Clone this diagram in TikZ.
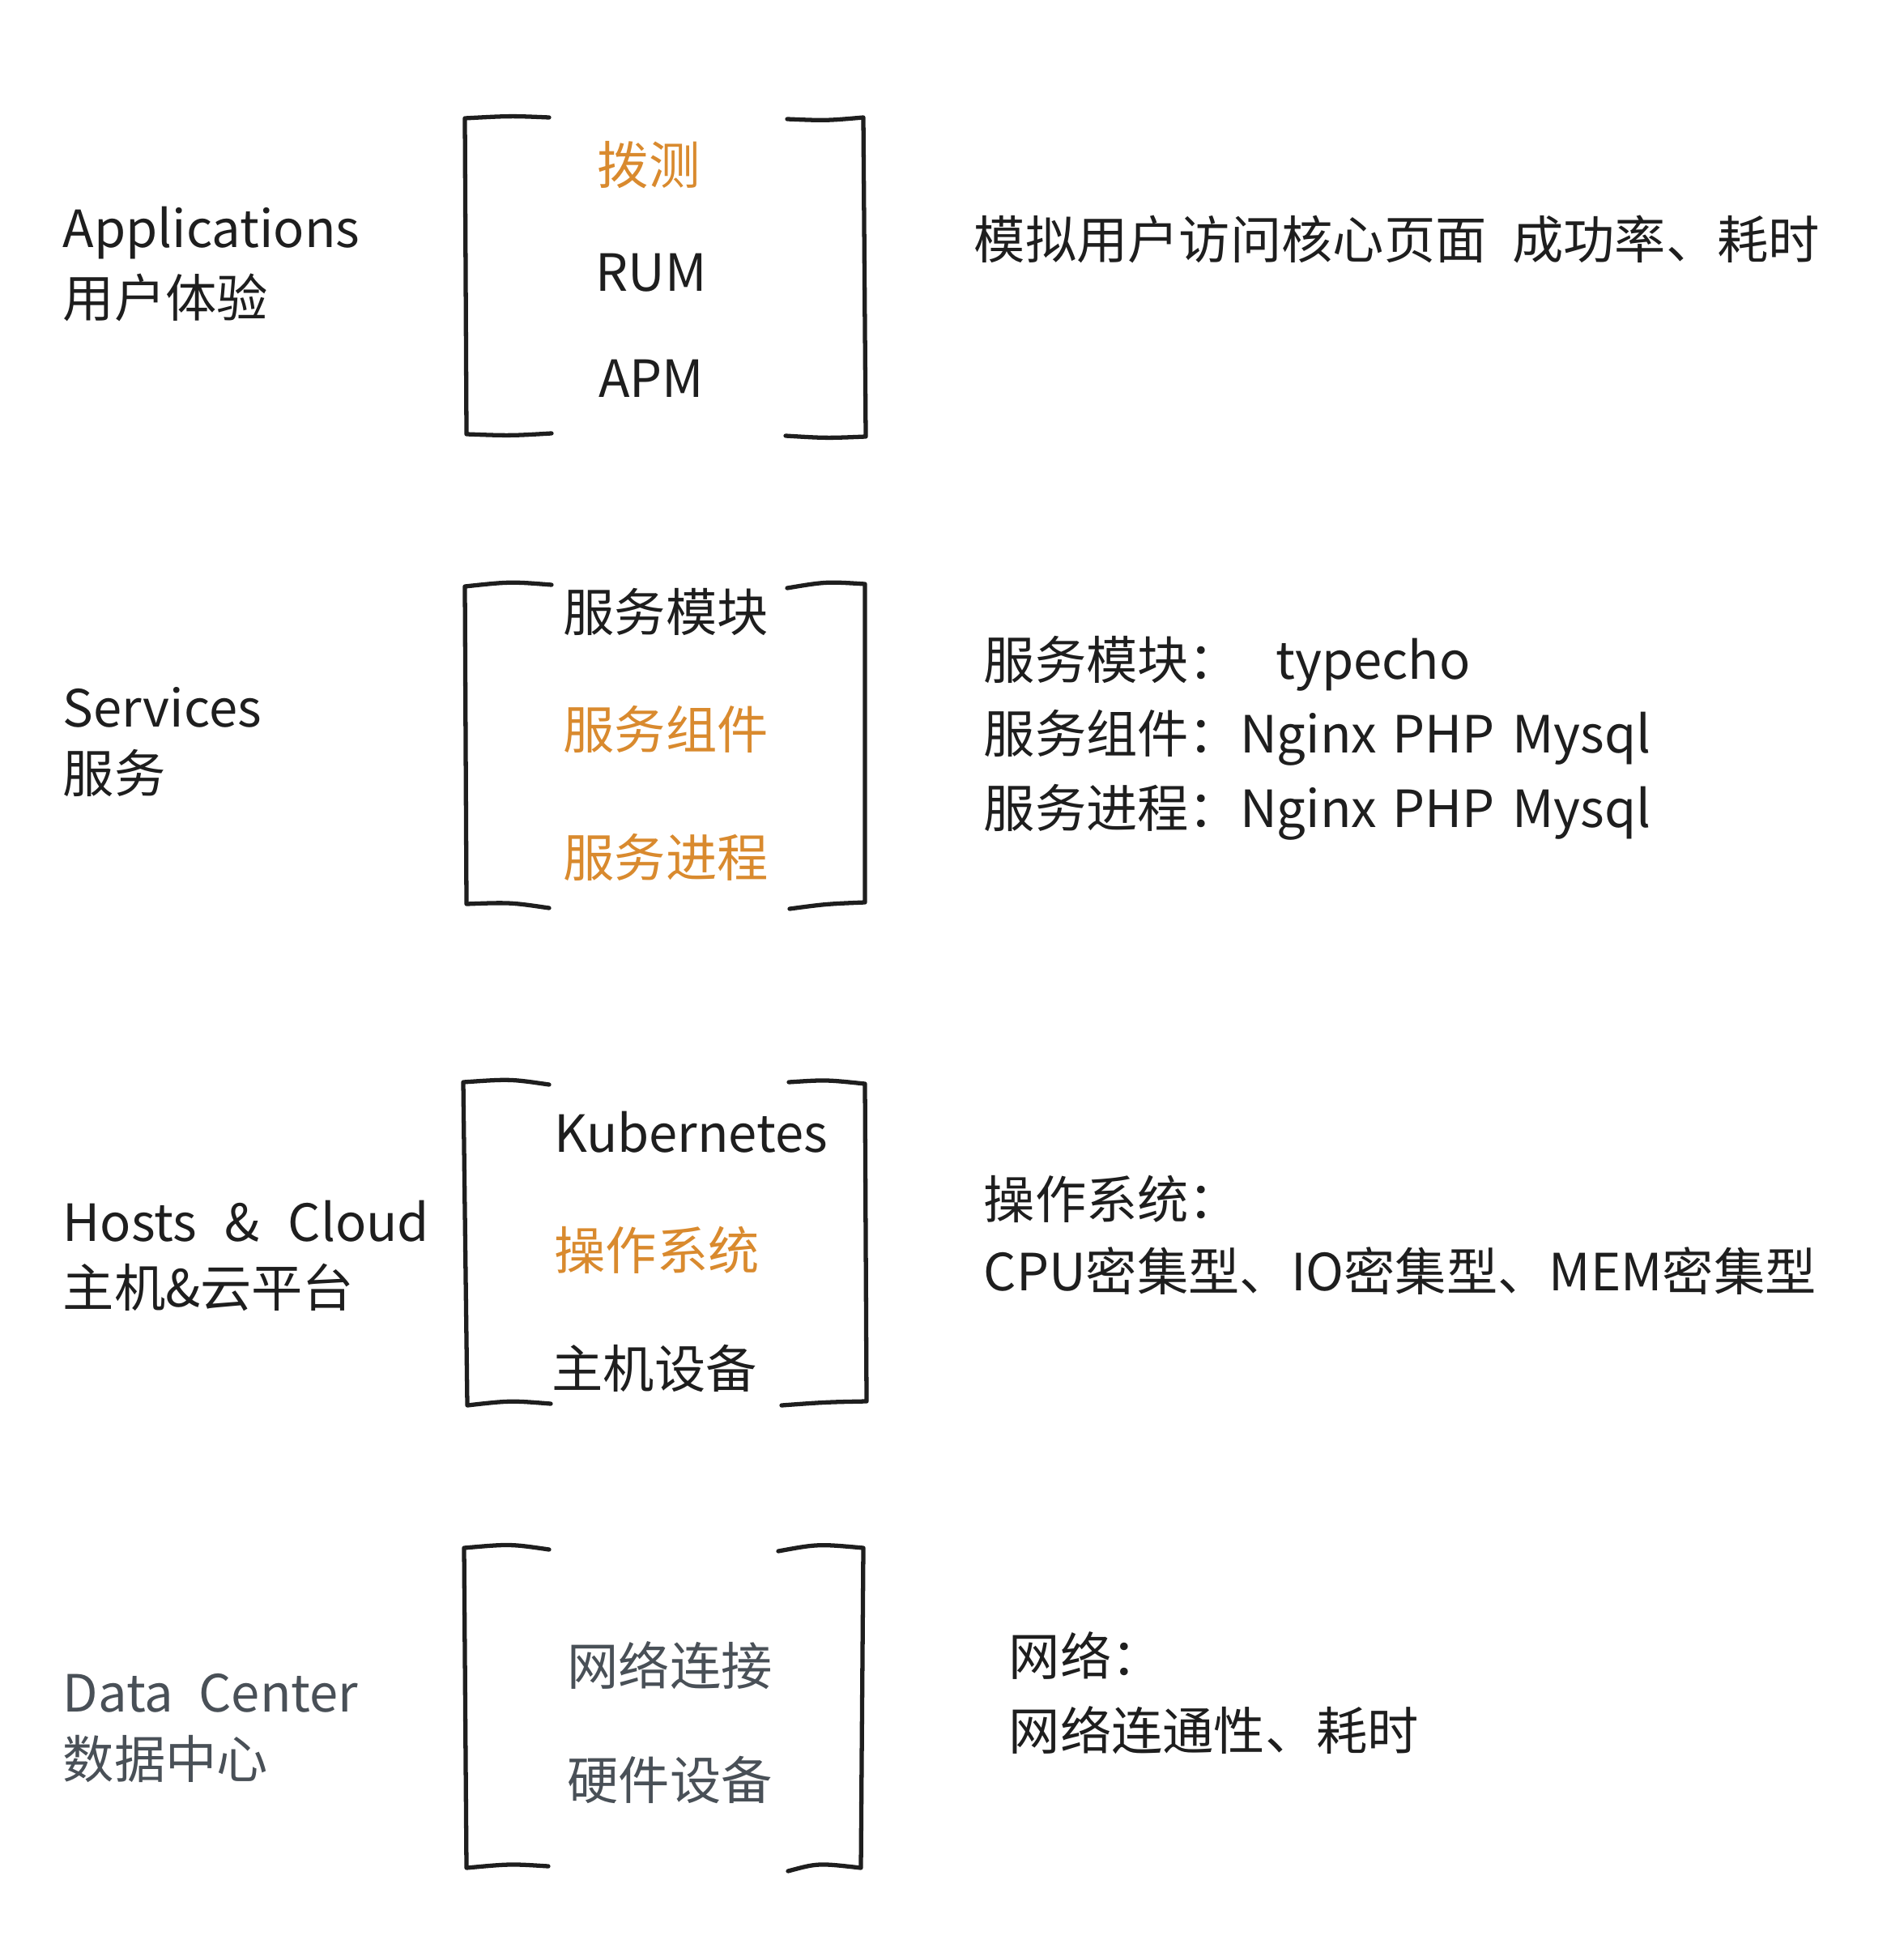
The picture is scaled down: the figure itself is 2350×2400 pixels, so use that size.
\documentclass[tikz,border=0pt]{standalone}
\usepackage{fontspec}
\setmainfont{Noto Sans CJK SC}
\definecolor{ink}{HTML}{1E1E1E}
\definecolor{orng}{HTML}{D98A2E}
\definecolor{gry}{HTML}{495057}
\begin{document}
\begin{tikzpicture}[x=0.01cm,y=-0.01cm,
  txt/.style={font=\fontsize{18}{20}\selectfont, text=ink, inner sep=0pt},
  ltxt/.style={txt, anchor=west},
  otxt/.style={txt, text=orng},
  gtxt/.style={txt, text=gry},
  brk/.style={draw=ink, line width=1.5pt, line cap=round, line join=round}]
\useasboundingbox[fill=white] (0,0) rectangle (2350,2400);

% ---------- Group 1: Applications ----------
\draw[brk] (678,145) .. controls (630,143) .. (574,146) -- (576,536) .. controls (630,538) .. (681,535);
\draw[brk] (972,147) .. controls (1020,149) .. (1066,145) -- (1069,539) .. controls (1020,541) .. (970,538);
\node[otxt] (a1) at (801,204) {拨测};
\node[txt] (a2) at (804,337) {RUM};
\node[txt] (a3) at (804,467) {APM};
\node[ltxt] (al1) at (77,288) {Applications};
\node[ltxt] (al2) at (77,367) {用户体验};
\node[ltxt] (ar1) at (1202,295) {模拟用户访问核心页面\hspace{0.5em}成功率、耗时};

% ---------- Group 2: Services ----------
\draw[brk] (681,722) .. controls (630,718) .. (574,724) -- (576,1116) .. controls (630,1114) .. (678,1121);
\draw[brk] (972,726) .. controls (1020,718) .. (1068,721) -- (1068,1114) .. controls (1020,1116) .. (975,1122);
\node[txt] (s1) at (822,755) {服务模块};
\node[otxt] (s2) at (822,900) {服务组件};
\node[otxt] (s3) at (822,1058) {服务进程};
\node[ltxt] (sl1) at (77,873) {Services};
\node[ltxt] (sl2) at (77,954) {服务};
\node[ltxt] (sr1) at (1214,819) {服务模块：\hspace{0.7em}typecho};
\node[ltxt] (sr2) at (1214,911) {服务组件：Nginx\hspace{0.3em}PHP\hspace{0.35em}Mysql};
\node[ltxt] (sr3) at (1214,1003) {服务进程：Nginx\hspace{0.3em}PHP\hspace{0.35em}Mysql};

% ---------- Group 3: Hosts & Cloud ----------
\draw[brk] (678,1339) .. controls (630,1332) .. (572,1336) -- (577,1735) .. controls (630,1729) .. (680,1733);
\draw[brk] (974,1336) .. controls (1020,1333) .. (1068,1338) -- (1070,1730) .. controls (1020,1731) .. (965,1735);
\node[txt] (h1) at (853,1398) {Kubernetes};
\node[otxt] (h2) at (811,1543) {操作系统};
\node[txt] (h3) at (808,1689) {主机设备};
\node[ltxt] (hl1) at (77,1508) {Hosts\hspace{0.55em}\&\hspace{0.55em}Cloud};
\node[ltxt] (hl2) at (77,1589) {主机\&云平台};
\node[ltxt] (hr1) at (1214,1480) {操作系统：};
\node[ltxt] (hr2) at (1214,1569) {CPU密集型、IO密集型、MEM密集型};

% ---------- Group 4: Data Center ----------
\draw[brk] (678,1913) .. controls (630,1906) .. (573,1911) -- (576,2306) .. controls (630,2301) .. (677,2304);
\draw[brk] (961,1915) .. controls (1010,1906) .. (1066,1911) -- (1063,2306) .. controls (1010,2300) .. (973,2310);
\node[gtxt] (d1) at (827,2056) {网络连接};
\node[gtxt] (d2) at (827,2197) {硬件设备};
\node[gtxt, anchor=west] (dl1) at (77,2090) {Data\hspace{0.5em}Center};
\node[gtxt, anchor=west] (dl2) at (77,2171) {数据中心};
\node[ltxt] (dr1) at (1245,2044) {网络：};
\node[ltxt] (dr2) at (1245,2136) {网络连通性、耗时};
\end{tikzpicture}
\end{document}
